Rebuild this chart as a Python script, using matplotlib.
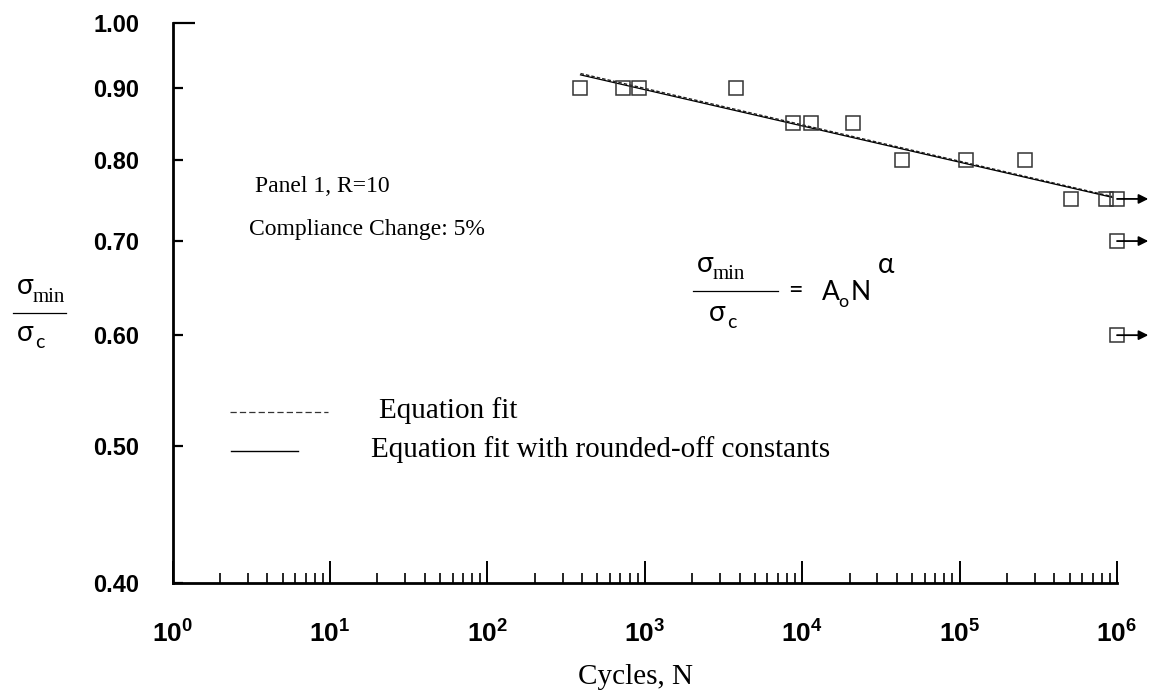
import matplotlib.pyplot as plt
from matplotlib.lines import Line2D
from matplotlib.ticker import FixedLocator, FixedFormatter, LogLocator, NullFormatter

plt.rcParams['mathtext.fontset'] = 'custom'
plt.rcParams['mathtext.rm'] = 'Liberation Sans:bold'
plt.rcParams['mathtext.bf'] = 'Liberation Sans:bold'
plt.rcParams['mathtext.it'] = 'Liberation Sans:bold'

# failed specimens
cycles = [387, 729, 914, 3790, 8770, 11360, 20900, 42800, 109700, 260000, 507000, 847000]
stress_ratio = [0.90, 0.90, 0.90, 0.90, 0.85, 0.85, 0.85, 0.80, 0.80, 0.80, 0.75, 0.75]

# run-outs (stopped at 10^6 cycles)
runout_cycles = [1e6, 1e6, 1e6]
runout_ratio = [0.75, 0.70, 0.60]

# power-law fit end points
fit_cycles = [390, 9.3e5]
fit_ratio = [0.921, 0.753]
rounded_ratio = [0.919, 0.752]

y_ticks = [0.40, 0.50, 0.60, 0.70, 0.80, 0.90, 1.00]
y_labels = ['0.40', '0.50', '0.60', '0.70', '0.80', '0.90', '1.00']
x_ticks = [1e0, 1e1, 1e2, 1e3, 1e4, 1e5, 1e6]
x_labels = [r'$\mathbf{10^{%d}}$' % k for k in range(7)]

SERIF = 'Liberation Serif'
SANS = 'Lato'
W, H = 1151, 698


def at(x, y):
    return x / W, 1 - y / H


fig = plt.figure(figsize=(W / 100, H / 100), dpi=100)
ax = fig.add_axes([0.15004, 0.16519, 0.82043, 0.80143])

ax.set_xscale('log')
ax.set_yscale('log')
ax.set_xlim(1, 1e6)
ax.set_ylim(0.4, 1.0)

ax.plot(fit_cycles, fit_ratio, color='#222222', lw=1.0, ls=(0, (2.5, 1.5)))
ax.plot(fit_cycles, rounded_ratio, color='black', lw=0.9)

ax.plot(cycles, stress_ratio, ls='none', marker='s', ms=9.5,
        mfc='none', mec='#333333', mew=1.1, clip_on=False)
ax.plot(runout_cycles, runout_ratio, ls='none', marker='s', ms=9.5,
        mfc='none', mec='#333333', mew=1.1, clip_on=False)
for n, s in zip(runout_cycles, runout_ratio):
    ax.annotate('', xy=(n * 1.58, s), xytext=(n, s), annotation_clip=False,
                arrowprops=dict(arrowstyle='-|>', color='black', lw=1.3,
                                mutation_scale=14, shrinkA=0, shrinkB=0))

for side in ['top', 'right']:
    ax.spines[side].set_visible(False)
for side in ['left', 'bottom']:
    ax.spines[side].set_linewidth(2.0)

ax.yaxis.set_major_locator(FixedLocator(y_ticks))
ax.yaxis.set_major_formatter(FixedFormatter(y_labels))
ax.yaxis.set_minor_locator(FixedLocator([]))
ax.xaxis.set_major_locator(FixedLocator(x_ticks))
ax.xaxis.set_major_formatter(FixedFormatter(x_labels))
ax.xaxis.set_minor_locator(LogLocator(base=10, subs=range(2, 10), numticks=20))
ax.xaxis.set_minor_formatter(NullFormatter())

ax.tick_params(axis='y', which='major', direction='in', length=7, width=1.6,
               pad=24, labelsize=17)
ax.tick_params(axis='x', which='major', direction='in', length=16, width=1.4,
               pad=28, labelsize=19)
ax.tick_params(axis='x', which='minor', direction='in', length=7, width=1.2)
for lab in ax.get_yticklabels():
    lab.set_fontweight('bold')
    lab.set_family('Liberation Sans')
ax.yaxis.get_major_ticks()[-1].tick1line.set_markersize(16)

# axis titles
fig.text(*at(636, 677), 'Cycles, N', family=SERIF, fontsize=21, ha='center', va='center')

fig.text(*at(25, 286), 'σ', family=SANS, fontsize=20, ha='center', va='center')
fig.text(*at(33, 302), 'min', family=SERIF, fontsize=15, ha='left', va='baseline')
fig.add_artist(Line2D([13 / W, 66 / W], [1 - 313 / H] * 2, color='black', lw=0.9))
fig.text(*at(25, 333), 'σ', family=SANS, fontsize=20, ha='center', va='center')
fig.text(*at(35, 348), 'c', family=SANS, fontsize=14, ha='left', va='baseline')

# annotations
fig.text(*at(255, 186), 'Panel 1, R=10', family=SERIF, fontsize=17, ha='left', va='center')
fig.text(*at(249, 229), 'Compliance Change: 5%', family=SERIF, fontsize=17,
         ha='left', va='center')

fig.text(*at(705, 264), 'σ', family=SANS, fontsize=20, ha='center', va='center')
fig.text(*at(713, 279), 'min', family=SERIF, fontsize=15, ha='left', va='baseline')
fig.add_artist(Line2D([693 / W, 778 / W], [1 - 291 / H] * 2, color='black', lw=0.9))
fig.text(*at(717, 313), 'σ', family=SANS, fontsize=20, ha='center', va='center')
fig.text(*at(727, 328), 'c', family=SANS, fontsize=14, ha='left', va='baseline')
fig.text(*at(795, 290), '=', family=SANS, fontsize=18, ha='center', va='center')
fig.text(*at(822, 300), 'A', family=SANS, fontsize=19, ha='left', va='baseline')
fig.text(*at(838, 307), 'o', family=SANS, fontsize=13, ha='left', va='baseline')
fig.text(*at(851, 300), 'N', family=SANS, fontsize=19, ha='left', va='baseline')
fig.text(*at(878, 273), 'α', family=SANS, fontsize=20, ha='left', va='baseline')

# legend
fig.add_artist(Line2D([230 / W, 328 / W], [1 - 412 / H] * 2, color='#333333', lw=0.9,
                      ls=(0, (5, 2.5))))
fig.add_artist(Line2D([231 / W, 298 / W], [1 - 451 / H] * 2, color='black', lw=1.0))
fig.text(*at(379, 411), 'Equation fit', family=SERIF, fontsize=21, ha='left', va='center')
fig.text(*at(371, 450), 'Equation fit with rounded-off constants', family=SERIF,
         fontsize=21, ha='left', va='center')

fig.savefig('out.png', dpi=100)
plt.close(fig)
